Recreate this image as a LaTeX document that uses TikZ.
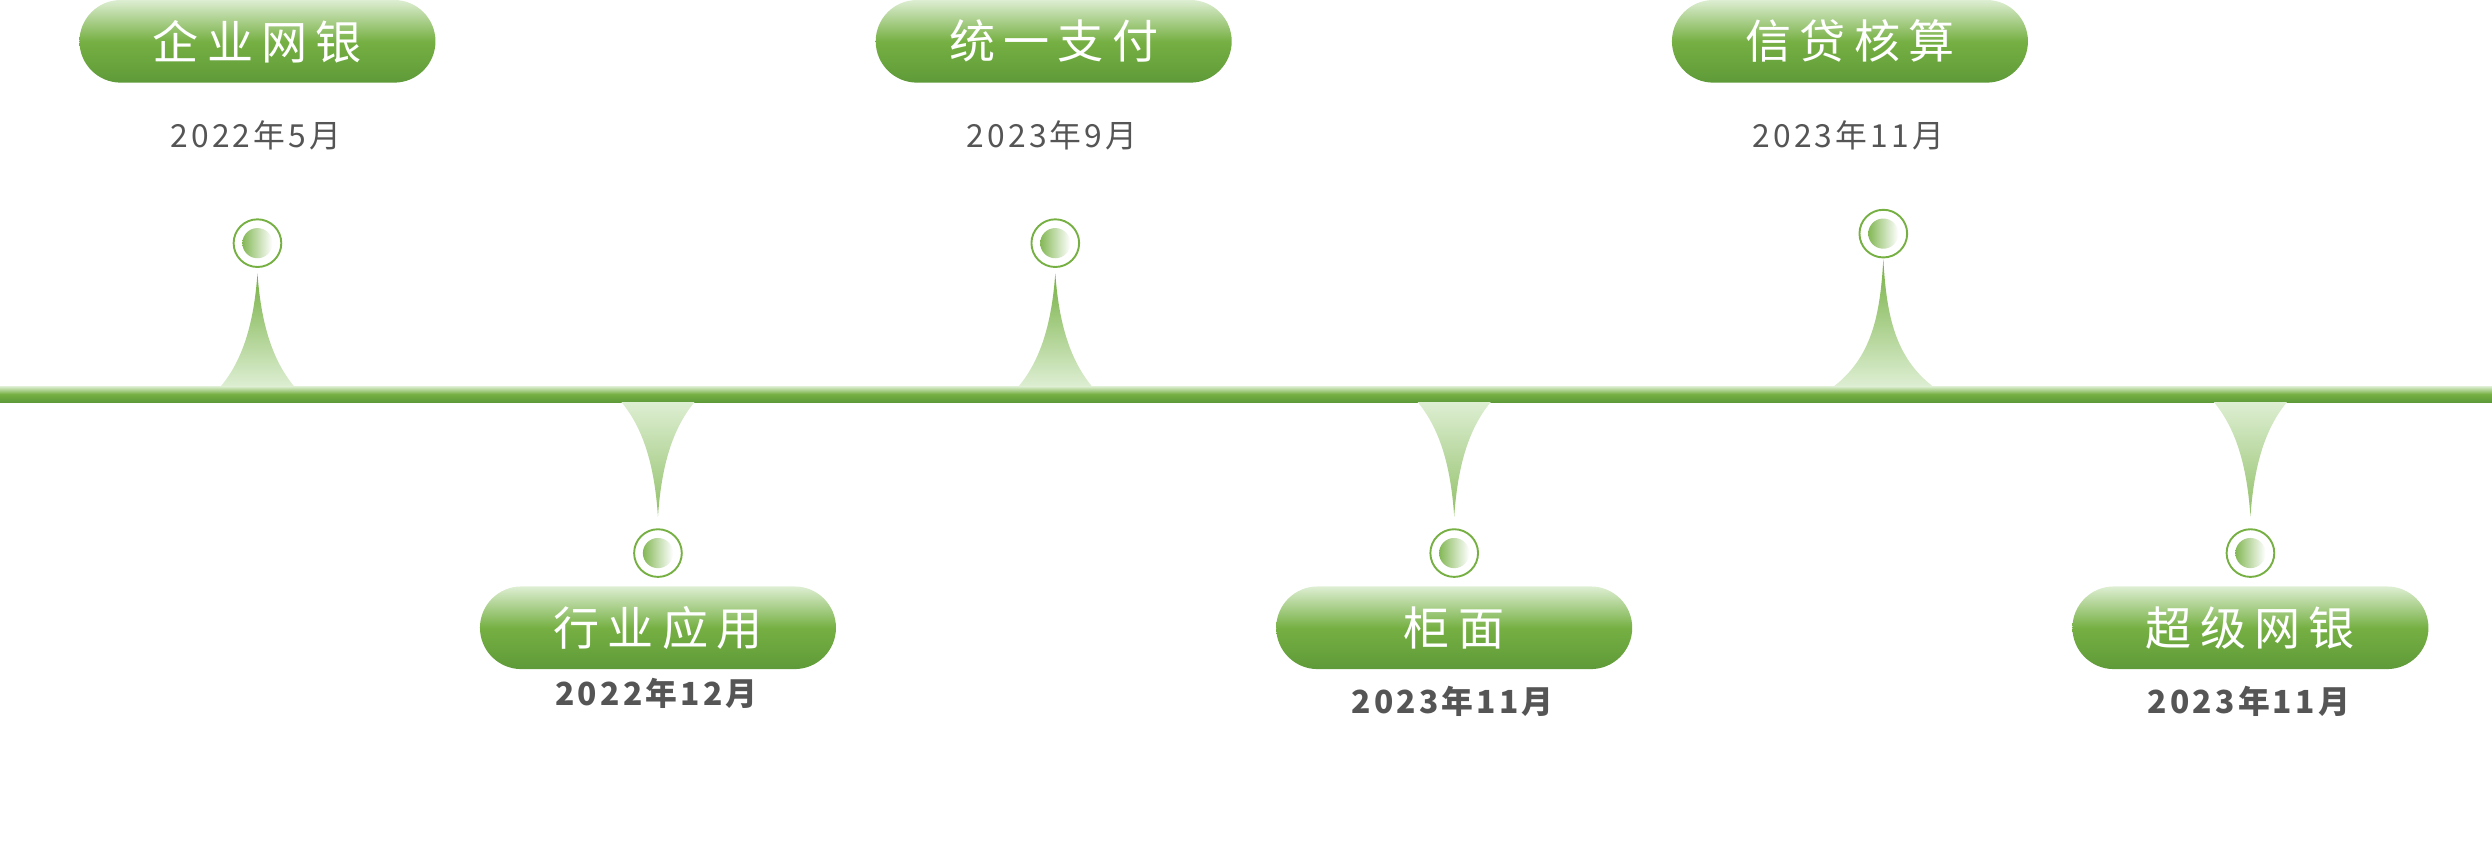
\documentclass[tikz,border=0pt]{standalone}
\usepackage{fontspec}
\newfontfamily\cjk[LetterSpace=18]{Noto Sans CJK SC}
\newfontfamily\dt[LetterSpace=10]{Noto Sans CJK SC}
\definecolor{gl}{HTML}{DDEED2}
\definecolor{gm}{HTML}{76B043}
\definecolor{gd}{HTML}{5E9A38}
\definecolor{gray}{HTML}{555555}
\begin{document}
\begin{tikzpicture}[x=1pt,y=-1pt,
  pill/.style={rounded corners=26pt,minimum width=224pt,minimum height=52pt,inner sep=0,
    top color=gl,bottom color=gd,middle color=gm,text=white,font=\cjk\fontsize{29}{29}\selectfont},
  date/.style={text=gray,font=\dt\fontsize{20}{20}\selectfont},
  bdate/.style={date,font=\dt\bfseries\fontsize{20}{20}\selectfont},
  ring/.style={circle,draw=gm,line width=1.2pt,fill=white,minimum size=30pt,inner sep=0},
  spk/.style={top color=gm,bottom color=gl,draw=none},
  spkd/.style={top color=gl,bottom color=gm!80,draw=none}]
\useasboundingbox (0,0) rectangle (1568,540);
% timeline
\shade[top color=gl,bottom color=gd,middle color=gm] (0,243) rectangle (1568,253);
\coordinate (line) at (0,248);
% top spikes
\foreach \x/\t/\w in {162/172/23,664/172/23,1185/163/31}{
  \shade[spk] (\x-\w,243) .. controls (\x-8,225) and (\x-2,200) .. (\x,\t)
     .. controls (\x+2,200) and (\x+8,225) .. (\x+\w,243) -- cycle;}
% bottom spikes
\foreach \x in {414,915,1416}{
  \shade[spkd] (\x-23,253) .. controls (\x-8,271) and (\x-2,296) .. (\x,325)
     .. controls (\x+2,296) and (\x+8,271) .. (\x+23,253) -- cycle;}
% circles
\foreach \n/\x/\y in {c1/162/153,c2/664/153,c3/1185/147,c4/414/348,c5/915/348,c6/1416/348}{
  \node[ring] (\n) at (\x,\y) {};
  \shade[shading angle=135,left color=gm!90,right color=white] (\x,\y) circle (9.5pt);}
% top pills
\node[pill] (p1) at (162,26) {企业网银};
\node[pill] (p2) at (663,26) {统一支付};
\node[pill] (p3) at (1164,26) {信贷核算};
\node[date] (d1) at (161,85) {2022年5月};
\node[date] (d2) at (662,85) {2023年9月};
\node[date] (d3) at (1163,85) {2023年11月};
% bottom pills
\node[pill] (p4) at (414,395) {行业应用};
\node[pill] (p5) at (915,395) {柜面};
\node[pill] (p6) at (1416,395) {超级网银};
\node[bdate] (d4) at (413,436) {2022年12月};
\node[bdate] (d5) at (914,441) {2023年11月};
\node[bdate] (d6) at (1415,441) {2023年11月};
\end{tikzpicture}
\end{document}
